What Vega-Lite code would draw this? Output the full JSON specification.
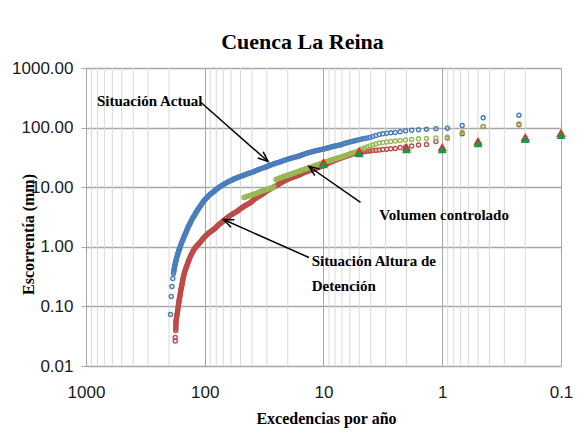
{
  "$schema": "https://vega.github.io/schema/vega-lite/v6.json",
  "width": 475,
  "height": 298,
  "autosize": {"type": "none"},
  "padding": {"left": 86, "top": 68, "right": 23, "bottom": 82},
  "background": "white",
  "config": {"view": {"stroke": null}},
  "title": {"text": "Cuenca La Reina", "font": "Liberation Serif", "fontSize": 22, "fontWeight": "bold", "color": "#000000", "anchor": "middle", "dx": -21, "offset": 5},
  "datasets": {
    "actual": [
      {"exc": 194.3, "mm": 0.073}, {"exc": 191.3, "mm": 0.147}, {"exc": 188.7, "mm": 0.216}, {"exc": 185.8, "mm": 0.294},
      {"exc": 183.3, "mm": 0.356}, {"exc": 182.4, "mm": 0.38}, {"exc": 181.5, "mm": 0.403}, {"exc": 180.7, "mm": 0.427},
      {"exc": 179.8, "mm": 0.45}, {"exc": 179.0, "mm": 0.474}, {"exc": 178.1, "mm": 0.497}, {"exc": 177.2, "mm": 0.52},
      {"exc": 176.3, "mm": 0.543}, {"exc": 175.5, "mm": 0.567}, {"exc": 174.6, "mm": 0.59}, {"exc": 173.5, "mm": 0.621},
      {"exc": 172.4, "mm": 0.651}, {"exc": 171.3, "mm": 0.682}, {"exc": 170.2, "mm": 0.712}, {"exc": 169.1, "mm": 0.743},
      {"exc": 168.0, "mm": 0.773}, {"exc": 167.0, "mm": 0.807}, {"exc": 165.9, "mm": 0.84}, {"exc": 164.8, "mm": 0.874},
      {"exc": 163.7, "mm": 0.908}, {"exc": 162.7, "mm": 0.942}, {"exc": 161.6, "mm": 0.975}, {"exc": 160.1, "mm": 1.034},
      {"exc": 158.6, "mm": 1.093}, {"exc": 157.1, "mm": 1.152}, {"exc": 155.5, "mm": 1.21}, {"exc": 154.0, "mm": 1.269},
      {"exc": 152.5, "mm": 1.328}, {"exc": 151.1, "mm": 1.397}, {"exc": 149.6, "mm": 1.465}, {"exc": 148.2, "mm": 1.534},
      {"exc": 146.8, "mm": 1.603}, {"exc": 145.4, "mm": 1.672}, {"exc": 143.9, "mm": 1.74}, {"exc": 142.6, "mm": 1.831},
      {"exc": 141.2, "mm": 1.921}, {"exc": 139.9, "mm": 2.012}, {"exc": 138.5, "mm": 2.102}, {"exc": 137.2, "mm": 2.193},
      {"exc": 135.8, "mm": 2.283}, {"exc": 134.5, "mm": 2.374}, {"exc": 133.1, "mm": 2.464}, {"exc": 131.6, "mm": 2.592},
      {"exc": 130.0, "mm": 2.72}, {"exc": 128.5, "mm": 2.848}, {"exc": 127.0, "mm": 2.976}, {"exc": 125.5, "mm": 3.104},
      {"exc": 123.9, "mm": 3.232}, {"exc": 122.4, "mm": 3.36}, {"exc": 120.8, "mm": 3.488}, {"exc": 119.4, "mm": 3.646},
      {"exc": 118.0, "mm": 3.804}, {"exc": 116.6, "mm": 3.963}, {"exc": 115.2, "mm": 4.121}, {"exc": 113.8, "mm": 4.279},
      {"exc": 112.4, "mm": 4.437}, {"exc": 111.0, "mm": 4.595}, {"exc": 109.6, "mm": 4.753}, {"exc": 107.9, "mm": 5.0},
      {"exc": 106.1, "mm": 5.247}, {"exc": 104.4, "mm": 5.495}, {"exc": 102.7, "mm": 5.742}, {"exc": 101.0, "mm": 5.989},
      {"exc": 99.2, "mm": 6.236}, {"exc": 97.5, "mm": 6.483}, {"exc": 95.7, "mm": 6.73}, {"exc": 94.2, "mm": 6.95},
      {"exc": 92.7, "mm": 7.17}, {"exc": 91.2, "mm": 7.39}, {"exc": 89.7, "mm": 7.61}, {"exc": 88.2, "mm": 7.83},
      {"exc": 86.6, "mm": 8.04}, {"exc": 85.1, "mm": 8.26}, {"exc": 83.6, "mm": 8.48}, {"exc": 82.1, "mm": 8.76},
      {"exc": 80.6, "mm": 9.04}, {"exc": 79.1, "mm": 9.32}, {"exc": 77.6, "mm": 9.59}, {"exc": 76.1, "mm": 9.87},
      {"exc": 74.6, "mm": 10.15}, {"exc": 73.1, "mm": 10.43}, {"exc": 71.6, "mm": 10.7}, {"exc": 70.2, "mm": 10.99},
      {"exc": 68.7, "mm": 11.27}, {"exc": 67.3, "mm": 11.56}, {"exc": 65.9, "mm": 11.84}, {"exc": 64.5, "mm": 12.13},
      {"exc": 63.0, "mm": 12.41}, {"exc": 61.6, "mm": 12.7}, {"exc": 60.1, "mm": 12.98}, {"exc": 59.0, "mm": 13.23},
      {"exc": 57.8, "mm": 13.47}, {"exc": 56.7, "mm": 13.72}, {"exc": 55.5, "mm": 13.96}, {"exc": 54.4, "mm": 14.21},
      {"exc": 53.2, "mm": 14.46}, {"exc": 52.1, "mm": 14.71}, {"exc": 50.9, "mm": 14.95}, {"exc": 49.8, "mm": 15.2},
      {"exc": 48.6, "mm": 15.44}, {"exc": 47.7, "mm": 15.7}, {"exc": 46.7, "mm": 15.96}, {"exc": 45.8, "mm": 16.22},
      {"exc": 44.8, "mm": 16.47}, {"exc": 43.9, "mm": 16.73}, {"exc": 43.0, "mm": 16.99}, {"exc": 42.1, "mm": 17.25},
      {"exc": 41.1, "mm": 17.5}, {"exc": 40.2, "mm": 17.76}, {"exc": 39.2, "mm": 18.02}, {"exc": 38.4, "mm": 18.41},
      {"exc": 37.5, "mm": 18.79}, {"exc": 36.6, "mm": 19.18}, {"exc": 35.7, "mm": 19.56}, {"exc": 34.9, "mm": 19.94},
      {"exc": 34.0, "mm": 20.32}, {"exc": 33.1, "mm": 20.71}, {"exc": 32.2, "mm": 21.09}, {"exc": 31.4, "mm": 21.48},
      {"exc": 30.5, "mm": 21.86}, {"exc": 29.9, "mm": 22.25}, {"exc": 29.3, "mm": 22.64}, {"exc": 28.7, "mm": 23.03},
      {"exc": 28.1, "mm": 23.41}, {"exc": 27.5, "mm": 23.8}, {"exc": 26.9, "mm": 24.19}, {"exc": 26.3, "mm": 24.58},
      {"exc": 25.7, "mm": 24.97}, {"exc": 25.1, "mm": 25.36}, {"exc": 24.5, "mm": 25.74}, {"exc": 23.9, "mm": 26.13},
      {"exc": 23.25, "mm": 26.52}, {"exc": 22.8, "mm": 26.97}, {"exc": 22.3, "mm": 27.42}, {"exc": 21.8, "mm": 27.87},
      {"exc": 21.3, "mm": 28.31}, {"exc": 20.8, "mm": 28.76}, {"exc": 20.3, "mm": 29.21}, {"exc": 19.8, "mm": 29.66},
      {"exc": 19.3, "mm": 30.11}, {"exc": 18.85, "mm": 30.55}, {"exc": 18.4, "mm": 31.0}, {"exc": 17.9, "mm": 31.45},
      {"exc": 17.4, "mm": 31.9}, {"exc": 16.9, "mm": 32.35}, {"exc": 16.4, "mm": 32.8}, {"exc": 16.05, "mm": 33.39},
      {"exc": 15.7, "mm": 33.97}, {"exc": 15.35, "mm": 34.55}, {"exc": 15.0, "mm": 35.13}, {"exc": 14.65, "mm": 35.72},
      {"exc": 14.3, "mm": 36.3}, {"exc": 13.95, "mm": 36.89}, {"exc": 13.6, "mm": 37.47}, {"exc": 13.25, "mm": 38.05},
      {"exc": 12.9, "mm": 38.63}, {"exc": 12.58, "mm": 39.22}, {"exc": 12.26, "mm": 39.8}, {"exc": 11.97, "mm": 40.3},
      {"exc": 11.67, "mm": 40.8}, {"exc": 11.38, "mm": 41.3}, {"exc": 11.08, "mm": 41.8}, {"exc": 10.79, "mm": 42.3},
      {"exc": 10.49, "mm": 42.8}, {"exc": 10.2, "mm": 43.3}, {"exc": 9.9, "mm": 43.8}, {"exc": 9.68, "mm": 44.4},
      {"exc": 9.46, "mm": 45.0}, {"exc": 9.24, "mm": 45.6}, {"exc": 9.02, "mm": 46.2}, {"exc": 8.8, "mm": 46.8},
      {"exc": 8.58, "mm": 47.45}, {"exc": 8.36, "mm": 48.1}, {"exc": 8.14, "mm": 48.7}, {"exc": 7.92, "mm": 49.3},
      {"exc": 7.7, "mm": 49.9}, {"exc": 7.47, "mm": 50.55}, {"exc": 7.24, "mm": 51.2}, {"exc": 7.01, "mm": 52.4},
      {"exc": 6.79, "mm": 53.5}, {"exc": 6.56, "mm": 54.6}, {"exc": 6.33, "mm": 55.8}, {"exc": 6.11, "mm": 56.9},
      {"exc": 5.88, "mm": 58.1}, {"exc": 5.66, "mm": 59.2}, {"exc": 5.43, "mm": 60.3}, {"exc": 5.2, "mm": 61.6},
      {"exc": 4.98, "mm": 62.9}, {"exc": 4.75, "mm": 64.2}, {"exc": 4.52, "mm": 65.6}, {"exc": 4.3, "mm": 66.9},
      {"exc": 4.07, "mm": 68.2}, {"exc": 3.85, "mm": 70.9}, {"exc": 3.62, "mm": 73.8}, {"exc": 3.394, "mm": 76.6},
      {"exc": 3.167, "mm": 78.7}, {"exc": 2.941, "mm": 80.5}, {"exc": 2.715, "mm": 81.8}, {"exc": 2.489, "mm": 82.8},
      {"exc": 2.262, "mm": 85.0}, {"exc": 2.036, "mm": 88.4}, {"exc": 1.81, "mm": 90.4}, {"exc": 1.584, "mm": 91.9},
      {"exc": 1.357, "mm": 94.0}, {"exc": 1.131, "mm": 95.5}, {"exc": 0.905, "mm": 97.7}, {"exc": 0.679, "mm": 108.4},
      {"exc": 0.452, "mm": 146.0}, {"exc": 0.226, "mm": 161.5}
    ],
    "altura": [
      {"exc": 177.2, "mm": 0.0263}, {"exc": 177.2, "mm": 0.0301},
      {"exc": 175.5, "mm": 0.0394}, {"exc": 175.35, "mm": 0.0422}, {"exc": 175.2, "mm": 0.0449}, {"exc": 175.05, "mm": 0.0476},
      {"exc": 174.9, "mm": 0.0503}, {"exc": 174.75, "mm": 0.0531}, {"exc": 174.6, "mm": 0.0558}, {"exc": 174.05, "mm": 0.0587},
      {"exc": 173.5, "mm": 0.0616}, {"exc": 172.9, "mm": 0.0645}, {"exc": 172.3, "mm": 0.0673}, {"exc": 171.75, "mm": 0.0702},
      {"exc": 171.2, "mm": 0.0731}, {"exc": 170.4, "mm": 0.0779}, {"exc": 169.6, "mm": 0.0827}, {"exc": 168.8, "mm": 0.0875},
      {"exc": 168.0, "mm": 0.0922}, {"exc": 167.35, "mm": 0.0982}, {"exc": 166.7, "mm": 0.1042}, {"exc": 166.05, "mm": 0.1103},
      {"exc": 165.4, "mm": 0.1163}, {"exc": 164.8, "mm": 0.1223}, {"exc": 164.2, "mm": 0.1283}, {"exc": 163.55, "mm": 0.1344},
      {"exc": 162.9, "mm": 0.1404}, {"exc": 162.25, "mm": 0.1464}, {"exc": 161.6, "mm": 0.1524}, {"exc": 160.85, "mm": 0.1625},
      {"exc": 160.1, "mm": 0.1726}, {"exc": 159.3, "mm": 0.1827}, {"exc": 158.5, "mm": 0.1927}, {"exc": 157.75, "mm": 0.2028},
      {"exc": 157.0, "mm": 0.2129}, {"exc": 156.2, "mm": 0.223}, {"exc": 155.4, "mm": 0.233}, {"exc": 154.65, "mm": 0.247},
      {"exc": 153.9, "mm": 0.261}, {"exc": 153.2, "mm": 0.275}, {"exc": 152.5, "mm": 0.288}, {"exc": 151.75, "mm": 0.302},
      {"exc": 151.0, "mm": 0.316}, {"exc": 150.25, "mm": 0.33}, {"exc": 149.5, "mm": 0.343}, {"exc": 148.45, "mm": 0.361},
      {"exc": 147.4, "mm": 0.379}, {"exc": 146.35, "mm": 0.397}, {"exc": 145.3, "mm": 0.415}, {"exc": 144.25, "mm": 0.433},
      {"exc": 143.2, "mm": 0.45}, {"exc": 142.15, "mm": 0.468}, {"exc": 141.1, "mm": 0.486}, {"exc": 139.75, "mm": 0.515},
      {"exc": 138.4, "mm": 0.544}, {"exc": 137.1, "mm": 0.574}, {"exc": 135.8, "mm": 0.603}, {"exc": 134.45, "mm": 0.632},
      {"exc": 133.1, "mm": 0.661}, {"exc": 131.45, "mm": 0.701}, {"exc": 129.8, "mm": 0.741}, {"exc": 128.15, "mm": 0.781},
      {"exc": 126.5, "mm": 0.821}, {"exc": 124.85, "mm": 0.861}, {"exc": 123.2, "mm": 0.901}, {"exc": 121.5, "mm": 0.936},
      {"exc": 119.8, "mm": 0.971}, {"exc": 118.1, "mm": 1.006}, {"exc": 116.4, "mm": 1.041}, {"exc": 114.7, "mm": 1.076},
      {"exc": 113.0, "mm": 1.111}, {"exc": 111.3, "mm": 1.146}, {"exc": 109.6, "mm": 1.181}, {"exc": 107.9, "mm": 1.233},
      {"exc": 106.2, "mm": 1.284}, {"exc": 104.55, "mm": 1.335}, {"exc": 102.9, "mm": 1.386}, {"exc": 101.2, "mm": 1.438},
      {"exc": 99.5, "mm": 1.489}, {"exc": 97.75, "mm": 1.543}, {"exc": 96.0, "mm": 1.597}, {"exc": 94.25, "mm": 1.651},
      {"exc": 92.5, "mm": 1.705}, {"exc": 90.75, "mm": 1.759}, {"exc": 89.0, "mm": 1.812}, {"exc": 87.25, "mm": 1.866},
      {"exc": 85.5, "mm": 1.92}, {"exc": 83.75, "mm": 1.974}, {"exc": 82.0, "mm": 2.028}, {"exc": 80.7, "mm": 2.102},
      {"exc": 79.4, "mm": 2.175}, {"exc": 78.1, "mm": 2.249}, {"exc": 76.8, "mm": 2.322}, {"exc": 75.45, "mm": 2.395},
      {"exc": 74.1, "mm": 2.468}, {"exc": 72.8, "mm": 2.542}, {"exc": 71.5, "mm": 2.615}, {"exc": 70.2, "mm": 2.689},
      {"exc": 68.9, "mm": 2.762}, {"exc": 67.6, "mm": 2.858}, {"exc": 66.3, "mm": 2.954}, {"exc": 65.05, "mm": 3.05},
      {"exc": 63.8, "mm": 3.145}, {"exc": 62.5, "mm": 3.241}, {"exc": 61.2, "mm": 3.337}, {"exc": 59.9, "mm": 3.433},
      {"exc": 58.6, "mm": 3.528}, {"exc": 57.35, "mm": 3.624}, {"exc": 56.1, "mm": 3.72}, {"exc": 54.8, "mm": 3.816},
      {"exc": 53.5, "mm": 3.911}, {"exc": 52.5, "mm": 4.038}, {"exc": 51.5, "mm": 4.164}, {"exc": 50.5, "mm": 4.291},
      {"exc": 49.5, "mm": 4.417}, {"exc": 48.55, "mm": 4.544}, {"exc": 47.6, "mm": 4.67}, {"exc": 46.6, "mm": 4.797},
      {"exc": 45.6, "mm": 4.924}, {"exc": 44.6, "mm": 5.051}, {"exc": 43.6, "mm": 5.177}, {"exc": 42.6, "mm": 5.304},
      {"exc": 41.6, "mm": 5.43}, {"exc": 40.9, "mm": 5.605}, {"exc": 40.2, "mm": 5.78}, {"exc": 39.45, "mm": 5.955},
      {"exc": 38.7, "mm": 6.13}, {"exc": 38.0, "mm": 6.31}, {"exc": 37.3, "mm": 6.49}, {"exc": 36.6, "mm": 6.665},
      {"exc": 35.9, "mm": 6.84}, {"exc": 35.15, "mm": 7.015}, {"exc": 34.4, "mm": 7.19}, {"exc": 33.7, "mm": 7.365},
      {"exc": 33.0, "mm": 7.54}, {"exc": 32.35, "mm": 7.785}, {"exc": 31.7, "mm": 8.03}, {"exc": 31.05, "mm": 8.275},
      {"exc": 30.4, "mm": 8.52}, {"exc": 29.7, "mm": 8.76}, {"exc": 29.0, "mm": 9.0}, {"exc": 28.35, "mm": 9.245},
      {"exc": 27.7, "mm": 9.49}, {"exc": 27.05, "mm": 9.735}, {"exc": 26.4, "mm": 9.98}, {"exc": 25.75, "mm": 10.225},
      {"exc": 25.1, "mm": 10.47}, {"exc": 24.6, "mm": 10.76}, {"exc": 24.1, "mm": 11.05}, {"exc": 23.65, "mm": 11.345},
      {"exc": 23.2, "mm": 11.64}, {"exc": 22.7, "mm": 11.93}, {"exc": 22.2, "mm": 12.22}, {"exc": 21.7, "mm": 12.51},
      {"exc": 21.2, "mm": 12.8}, {"exc": 20.75, "mm": 13.095}, {"exc": 20.3, "mm": 13.39}, {"exc": 19.8, "mm": 13.68},
      {"exc": 19.3, "mm": 13.97}, {"exc": 18.8, "mm": 14.26}, {"exc": 18.3, "mm": 14.55}, {"exc": 17.85, "mm": 14.845},
      {"exc": 17.4, "mm": 15.14}, {"exc": 16.9, "mm": 15.43}, {"exc": 16.4, "mm": 15.72}, {"exc": 16.05, "mm": 16.06},
      {"exc": 15.7, "mm": 16.4}, {"exc": 15.35, "mm": 16.74}, {"exc": 15.0, "mm": 17.08}, {"exc": 14.65, "mm": 17.42},
      {"exc": 14.3, "mm": 17.76}, {"exc": 13.95, "mm": 18.1}, {"exc": 13.6, "mm": 18.44}, {"exc": 13.25, "mm": 18.78},
      {"exc": 12.9, "mm": 19.12}, {"exc": 12.58, "mm": 19.46}, {"exc": 12.26, "mm": 19.8}, {"exc": 11.97, "mm": 20.2},
      {"exc": 11.67, "mm": 20.6}, {"exc": 11.38, "mm": 21.0}, {"exc": 11.08, "mm": 21.4}, {"exc": 10.79, "mm": 21.85},
      {"exc": 10.49, "mm": 22.3}, {"exc": 10.2, "mm": 22.7}, {"exc": 9.9, "mm": 23.1}, {"exc": 9.7, "mm": 23.65},
      {"exc": 9.5, "mm": 24.2}, {"exc": 9.28, "mm": 24.8}, {"exc": 9.05, "mm": 25.4}, {"exc": 8.83, "mm": 26.05},
      {"exc": 8.6, "mm": 26.7}, {"exc": 8.37, "mm": 27.3}, {"exc": 8.14, "mm": 27.9}, {"exc": 7.92, "mm": 28.55},
      {"exc": 7.69, "mm": 29.2}, {"exc": 7.47, "mm": 29.8}, {"exc": 7.24, "mm": 30.4}, {"exc": 7.01, "mm": 31.05},
      {"exc": 6.79, "mm": 31.7}, {"exc": 6.56, "mm": 32.6}, {"exc": 6.33, "mm": 33.4}, {"exc": 6.11, "mm": 34.2},
      {"exc": 5.88, "mm": 35.0}, {"exc": 5.66, "mm": 35.9}, {"exc": 5.43, "mm": 36.7}, {"exc": 5.2, "mm": 37.6},
      {"exc": 4.98, "mm": 38.4}, {"exc": 4.75, "mm": 39.3}, {"exc": 4.52, "mm": 39.6}, {"exc": 4.3, "mm": 40.1},
      {"exc": 4.07, "mm": 40.6}, {"exc": 3.85, "mm": 41.1}, {"exc": 3.62, "mm": 41.6}, {"exc": 3.394, "mm": 42.1},
      {"exc": 3.167, "mm": 42.9}, {"exc": 2.941, "mm": 43.4}, {"exc": 2.715, "mm": 44.1}, {"exc": 2.489, "mm": 44.6},
      {"exc": 2.262, "mm": 46.4}, {"exc": 2.036, "mm": 47.3}, {"exc": 1.81, "mm": 49.1}, {"exc": 1.584, "mm": 51.1},
      {"exc": 1.357, "mm": 52.1}, {"exc": 1.131, "mm": 58.5}, {"exc": 0.905, "mm": 66.9}, {"exc": 0.679, "mm": 78.7},
      {"exc": 0.452, "mm": 103.9}, {"exc": 0.226, "mm": 111.4}
    ],
    "volumen": [
      {"exc": 46.7, "mm": 6.72}, {"exc": 45.4, "mm": 6.86}, {"exc": 44.2, "mm": 6.99}, {"exc": 42.9, "mm": 7.12},
      {"exc": 41.6, "mm": 7.26}, {"exc": 40.4, "mm": 7.4}, {"exc": 39.3, "mm": 7.55}, {"exc": 38.1, "mm": 7.7},
      {"exc": 37.0, "mm": 7.84}, {"exc": 36.0, "mm": 8.04}, {"exc": 35.0, "mm": 8.24}, {"exc": 34.0, "mm": 8.44},
      {"exc": 33.0, "mm": 8.64}, {"exc": 32.1, "mm": 8.82}, {"exc": 31.2, "mm": 8.99}, {"exc": 30.2, "mm": 9.16},
      {"exc": 29.3, "mm": 9.33}, {"exc": 28.5, "mm": 9.52}, {"exc": 27.7, "mm": 9.71}, {"exc": 26.9, "mm": 9.9},
      {"exc": 26.1, "mm": 10.08},
      {"exc": 25.1, "mm": 13.47}, {"exc": 24.5, "mm": 13.76}, {"exc": 23.9, "mm": 14.04}, {"exc": 23.3, "mm": 14.33},
      {"exc": 22.7, "mm": 14.61}, {"exc": 22.1, "mm": 14.9}, {"exc": 21.5, "mm": 15.19}, {"exc": 20.9, "mm": 15.48},
      {"exc": 20.3, "mm": 15.76}, {"exc": 19.7, "mm": 16.05}, {"exc": 19.15, "mm": 16.33}, {"exc": 18.7, "mm": 16.63},
      {"exc": 18.3, "mm": 16.92}, {"exc": 17.9, "mm": 17.22}, {"exc": 17.5, "mm": 17.52}, {"exc": 17.05, "mm": 17.82},
      {"exc": 16.6, "mm": 18.11}, {"exc": 16.2, "mm": 18.41}, {"exc": 15.8, "mm": 18.7}, {"exc": 15.45, "mm": 19.04},
      {"exc": 15.1, "mm": 19.38}, {"exc": 14.75, "mm": 19.72}, {"exc": 14.4, "mm": 20.05}, {"exc": 14.05, "mm": 20.39},
      {"exc": 13.7, "mm": 20.73}, {"exc": 13.35, "mm": 21.07}, {"exc": 13.0, "mm": 21.4}, {"exc": 12.7, "mm": 21.79},
      {"exc": 12.4, "mm": 22.18}, {"exc": 12.12, "mm": 22.57}, {"exc": 11.85, "mm": 22.95}, {"exc": 11.58, "mm": 23.34},
      {"exc": 11.3, "mm": 23.73}, {"exc": 11.0, "mm": 24.12}, {"exc": 10.7, "mm": 24.5}, {"exc": 10.45, "mm": 24.95},
      {"exc": 10.2, "mm": 25.39}, {"exc": 9.98, "mm": 25.84}, {"exc": 9.76, "mm": 26.28}, {"exc": 9.52, "mm": 26.72},
      {"exc": 9.29, "mm": 27.16}, {"exc": 9.05, "mm": 27.6}, {"exc": 8.82, "mm": 28.05}, {"exc": 8.62, "mm": 28.52},
      {"exc": 8.43, "mm": 28.98}, {"exc": 8.23, "mm": 29.45}, {"exc": 8.03, "mm": 29.91}, {"exc": 7.83, "mm": 30.38},
      {"exc": 7.64, "mm": 30.84}, {"exc": 7.44, "mm": 31.3}, {"exc": 7.24, "mm": 31.77}, {"exc": 7.01, "mm": 32.4},
      {"exc": 6.79, "mm": 33.0}, {"exc": 6.56, "mm": 34.0}, {"exc": 6.33, "mm": 34.9}, {"exc": 6.11, "mm": 35.9},
      {"exc": 5.88, "mm": 36.9}, {"exc": 5.66, "mm": 37.8}, {"exc": 5.43, "mm": 38.8}, {"exc": 5.2, "mm": 39.8},
      {"exc": 4.98, "mm": 41.7}, {"exc": 4.75, "mm": 43.7}, {"exc": 4.52, "mm": 45.6}, {"exc": 4.3, "mm": 47.5},
      {"exc": 4.07, "mm": 49.4}, {"exc": 3.85, "mm": 51.2}, {"exc": 3.62, "mm": 53.2}, {"exc": 3.394, "mm": 55.1},
      {"exc": 3.167, "mm": 56.2}, {"exc": 2.941, "mm": 57.3}, {"exc": 2.715, "mm": 58.5}, {"exc": 2.489, "mm": 59.6},
      {"exc": 2.262, "mm": 60.8}, {"exc": 2.036, "mm": 61.9}, {"exc": 1.81, "mm": 63.1}, {"exc": 1.584, "mm": 64.9},
      {"exc": 1.357, "mm": 65.6}, {"exc": 1.131, "mm": 66.9}, {"exc": 0.905, "mm": 69.0}, {"exc": 0.679, "mm": 83.7},
      {"exc": 0.452, "mm": 105.6}, {"exc": 0.226, "mm": 115.8}
    ],
    "diseno_altura": [
      {"exc": 10, "mm": 26.4}, {"exc": 5, "mm": 40.4}, {"exc": 2, "mm": 47.2}, {"exc": 1, "mm": 47.2},
      {"exc": 0.5, "mm": 59.5}, {"exc": 0.2, "mm": 69.5}, {"exc": 0.1, "mm": 81.3}
    ],
    "diseno_volumen": [
      {"exc": 10, "mm": 24.2}, {"exc": 5, "mm": 37.1}, {"exc": 2, "mm": 43.3}, {"exc": 1, "mm": 43.3},
      {"exc": 0.5, "mm": 54.6}, {"exc": 0.2, "mm": 63.8}, {"exc": 0.1, "mm": 74.6}
    ],
    "rejilla_menor": [
      {"exc": 900}, {"exc": 800}, {"exc": 700}, {"exc": 600}, {"exc": 500}, {"exc": 400}, {"exc": 300}, {"exc": 200},
      {"exc": 90}, {"exc": 80}, {"exc": 70}, {"exc": 60}, {"exc": 50}, {"exc": 40}, {"exc": 30}, {"exc": 20},
      {"exc": 9}, {"exc": 8}, {"exc": 7}, {"exc": 6}, {"exc": 5}, {"exc": 4}, {"exc": 3}, {"exc": 2},
      {"exc": 0.9}, {"exc": 0.8}, {"exc": 0.7}, {"exc": 0.6}, {"exc": 0.5}, {"exc": 0.4}, {"exc": 0.3}, {"exc": 0.2}
    ],
    "notas": [
      {"texto": "Situación Actual", "exc": 808, "mm": 277},
      {"texto": "Volumen controlado", "exc": 3.39, "mm": 3.39},
      {"texto": "Situación Altura de", "exc": 12.57, "mm": 0.573},
      {"texto": "Detención", "exc": 12.57, "mm": 0.218}
    ],
    "flechas": [
      {"id": 1, "exc": 107.5, "mm": 263.7, "exc2": 29.3, "mm2": 27.0},
      {"id": 2, "exc": 4.88, "mm": 5.54, "exc2": 13.25, "mm2": 22.25},
      {"id": 3, "exc": 13.25, "mm": 0.661, "exc2": 69.5, "mm2": 2.871}
    ]
  },
  "layer": [
    {
      "data": {"name": "rejilla_menor"},
      "mark": {"type": "rule", "color": "#d9d9d9", "strokeWidth": 1},
      "encoding": {
        "x": {"field": "exc", "type": "quantitative", "scale": {"type": "log", "domain": [0.1, 1000], "reverse": true}}
      }
    },
    {
      "data": {"name": "actual"},
      "mark": {"type": "point", "shape": "circle", "filled": false, "size": 16, "strokeWidth": 1.4, "color": "#4a7ebb", "opacity": 1},
      "encoding": {
        "x": {
          "field": "exc", "type": "quantitative",
          "scale": {"type": "log", "domain": [0.1, 1000], "reverse": true},
          "axis": {
            "title": "Excedencias por año", "values": [1000, 100, 10, 1, 0.1], "format": "~g",
            "grid": true, "gridColor": "#a6a6a6", "gridWidth": 1, "domain": false, "ticks": false, "tickSize": 0,
            "labelFont": "Liberation Sans Narrow, Liberation Sans, sans-serif", "labelFontSize": 17, "labelColor": "#1a1a1a",
            "labelPadding": 18, "labelFlush": false, "labelOverlap": false, "labelBound": false,
            "titleFont": "Liberation Serif", "titleFontSize": 16, "titleFontWeight": "bold", "titleColor": "#000000",
            "titleX": 240, "titleY": 52, "titleAlign": "center", "titleBaseline": "middle"
          }
        },
        "y": {
          "field": "mm", "type": "quantitative",
          "scale": {"type": "log", "domain": [0.01, 1000]},
          "axis": {
            "title": "Escorrentía (mm)", "values": [0.01, 0.1, 1, 10, 100, 1000], "format": ".2f",
            "grid": true, "gridColor": "#a6a6a6", "gridWidth": 1.3, "domain": false,
            "ticks": true, "tickColor": "#a6a6a6", "tickSize": 5, "tickWidth": 1,
            "labelFont": "Liberation Sans Narrow, Liberation Sans, sans-serif", "labelFontSize": 17, "labelColor": "#1a1a1a",
            "labelPadding": 8, "labelFlush": false, "labelOverlap": false, "labelBound": false,
            "titleFont": "Liberation Serif", "titleFontSize": 16, "titleFontWeight": "bold", "titleColor": "#000000",
            "titleAngle": -90, "titleX": -58, "titleY": 166, "titleAlign": "center", "titleBaseline": "middle"
          }
        }
      }
    },
    {
      "data": {"name": "altura"},
      "mark": {"type": "point", "shape": "circle", "filled": false, "size": 16, "strokeWidth": 1.4, "color": "#be4b48", "opacity": 1},
      "encoding": {
        "x": {"field": "exc", "type": "quantitative", "scale": {"type": "log", "domain": [0.1, 1000], "reverse": true}},
        "y": {"field": "mm", "type": "quantitative", "scale": {"type": "log", "domain": [0.01, 1000]}}
      }
    },
    {
      "data": {"name": "volumen"},
      "mark": {"type": "point", "shape": "circle", "filled": false, "size": 16, "strokeWidth": 1.4, "color": "#98b954", "opacity": 1},
      "encoding": {
        "x": {"field": "exc", "type": "quantitative", "scale": {"type": "log", "domain": [0.1, 1000], "reverse": true}},
        "y": {"field": "mm", "type": "quantitative", "scale": {"type": "log", "domain": [0.01, 1000]}}
      }
    },
    {
      "data": {"name": "diseno_altura"},
      "mark": {"type": "point", "shape": "triangle-up", "filled": true, "size": 90, "color": "#ff1a1a", "opacity": 1},
      "encoding": {
        "x": {"field": "exc", "type": "quantitative", "scale": {"type": "log", "domain": [0.1, 1000], "reverse": true}},
        "y": {"field": "mm", "type": "quantitative", "scale": {"type": "log", "domain": [0.01, 1000]}}
      }
    },
    {
      "data": {"name": "diseno_volumen"},
      "mark": {"type": "point", "shape": "triangle-up", "filled": true, "size": 80, "color": "#0f9d4a", "opacity": 1},
      "encoding": {
        "x": {"field": "exc", "type": "quantitative", "scale": {"type": "log", "domain": [0.1, 1000], "reverse": true}},
        "y": {"field": "mm", "type": "quantitative", "scale": {"type": "log", "domain": [0.01, 1000]}}
      }
    },
    {
      "data": {"name": "flechas"},
      "mark": {"type": "rule", "color": "#000000", "strokeWidth": 1.5},
      "encoding": {
        "x": {"field": "exc", "type": "quantitative", "scale": {"type": "log", "domain": [0.1, 1000], "reverse": true}},
        "y": {"field": "mm", "type": "quantitative", "scale": {"type": "log", "domain": [0.01, 1000]}},
        "x2": {"field": "exc2"},
        "y2": {"field": "mm2"}
      }
    },
    {
      "data": {"name": "flechas"},
      "transform": [{"filter": "datum.id == 1"}],
      "mark": {"type": "point", "shape": "M -0.45 1.1 L 0 0 L 0.45 1.1", "filled": false, "size": 330, "strokeWidth": 1.5, "color": "#000000", "opacity": 1, "angle": 131},
      "encoding": {
        "x": {"field": "exc2", "type": "quantitative", "scale": {"type": "log", "domain": [0.1, 1000], "reverse": true}},
        "y": {"field": "mm2", "type": "quantitative", "scale": {"type": "log", "domain": [0.01, 1000]}}
      }
    },
    {
      "data": {"name": "flechas"},
      "transform": [{"filter": "datum.id == 2"}],
      "mark": {"type": "point", "shape": "M -0.45 1.1 L 0 0 L 0.45 1.1", "filled": false, "size": 330, "strokeWidth": 1.5, "color": "#000000", "opacity": 1, "angle": 305},
      "encoding": {
        "x": {"field": "exc2", "type": "quantitative", "scale": {"type": "log", "domain": [0.1, 1000], "reverse": true}},
        "y": {"field": "mm2", "type": "quantitative", "scale": {"type": "log", "domain": [0.01, 1000]}}
      }
    },
    {
      "data": {"name": "flechas"},
      "transform": [{"filter": "datum.id == 3"}],
      "mark": {"type": "point", "shape": "M -0.45 1.1 L 0 0 L 0.45 1.1", "filled": false, "size": 330, "strokeWidth": 1.5, "color": "#000000", "opacity": 1, "angle": 294},
      "encoding": {
        "x": {"field": "exc2", "type": "quantitative", "scale": {"type": "log", "domain": [0.1, 1000], "reverse": true}},
        "y": {"field": "mm2", "type": "quantitative", "scale": {"type": "log", "domain": [0.01, 1000]}}
      }
    },
    {
      "data": {"name": "notas"},
      "mark": {"type": "text", "font": "Liberation Serif", "fontSize": 15, "fontWeight": "bold", "align": "left", "baseline": "middle", "color": "#000000"},
      "encoding": {
        "x": {"field": "exc", "type": "quantitative", "scale": {"type": "log", "domain": [0.1, 1000], "reverse": true}},
        "y": {"field": "mm", "type": "quantitative", "scale": {"type": "log", "domain": [0.01, 1000]}},
        "text": {"field": "texto"}
      }
    },
    {
      "mark": {"type": "rule", "color": "#222222", "strokeWidth": 1.2, "strokeDash": [1, 1], "clip": false},
      "encoding": {
        "x": {"datum": 4040, "type": "quantitative", "scale": {"type": "log", "domain": [0.1, 1000], "reverse": true}},
        "y": {"datum": 11627, "type": "quantitative", "scale": {"type": "log", "domain": [0.01, 1000]}},
        "y2": {"datum": 0.00027}
      }
    },
    {
      "mark": {"type": "rule", "color": "#333333", "strokeWidth": 1.5, "clip": false},
      "encoding": {
        "x": {"datum": 4040, "type": "quantitative", "scale": {"type": "log", "domain": [0.1, 1000], "reverse": true}},
        "x2": {"datum": 0.0679},
        "y": {"datum": 11627, "type": "quantitative", "scale": {"type": "log", "domain": [0.01, 1000]}}
      }
    },
    {
      "mark": {"type": "rule", "color": "#444444", "strokeWidth": 1.3, "clip": false},
      "encoding": {
        "x": {"datum": 0.0679, "type": "quantitative", "scale": {"type": "log", "domain": [0.1, 1000], "reverse": true}},
        "y": {"datum": 11627, "type": "quantitative", "scale": {"type": "log", "domain": [0.01, 1000]}},
        "y2": {"datum": 0.00027}
      }
    }
  ]
}
